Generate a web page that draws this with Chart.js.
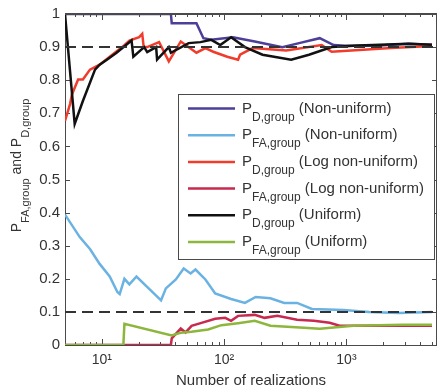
<!DOCTYPE html>
<html>
<head>
<meta charset="utf-8">
<script src="https://cdn.jsdelivr.net/npm/chart.js@4"></script>
<style>
  html, body { margin: 0; padding: 0; background: #fff; }
  #wrap { width: 444px; height: 388px; }
</style>
</head>
<body>
<div id="wrap"><canvas id="chart" width="444" height="388"></canvas></div>
<script>
// ============================================
// DATA
// ============================================
const xMin = 5;
const xMax = 5500;
const pdTarget = 0.9;
const pfaTarget = 0.1;

// P_D,group (Non-uniform)
const nonUniformPdN = [5, 36.7, 37.3, 59.4, 67.7, 78.5, 118, 178, 299, 410, 605, 785, 982, 1746, 3222, 5000];
const nonUniformPd  = [1, 1, 0.972, 0.972, 0.927, 0.922, 0.93, 0.917, 0.9, 0.912, 0.927, 0.906, 0.904, 0.904, 0.91, 0.907];

// P_FA,group (Non-uniform)
const nonUniformPfaN = [5, 6.6, 8, 9.6, 11.6, 13.4, 14, 15.3, 16.8, 19.2, 30.5, 33.4, 40.3, 46.7, 53.2, 58.3, 70.3, 84.5, 114, 148, 181, 239, 310, 395, 522, 946, 1532, 2674, 5000];
const nonUniformPfa  = [0.394, 0.326, 0.29, 0.245, 0.207, 0.16, 0.154, 0.2, 0.183, 0.207, 0.135, 0.171, 0.198, 0.231, 0.216, 0.228, 0.198, 0.156, 0.139, 0.127, 0.145, 0.141, 0.127, 0.127, 0.109, 0.106, 0.1, 0.097, 0.1];

// P_D,group (Log non-uniform)
const logPdN = [5, 5.5, 5.7, 6.4, 7.0, 8.0, 9.6, 11.6, 15.3, 16.8, 20.2, 21.4, 22.0, 23.5, 29.4, 35.3, 44.2, 59.4, 70.3, 81.5, 106, 130, 135, 171, 322, 628, 757, 1097, 2306, 5000];
const logPd  = [0.677, 0.728, 0.757, 0.802, 0.802, 0.832, 0.847, 0.871, 0.906, 0.92, 0.93, 0.94, 0.9, 0.9, 0.915, 0.857, 0.917, 0.883, 0.897, 0.886, 0.871, 0.862, 0.877, 0.897, 0.89, 0.906, 0.886, 0.89, 0.897, 0.903];

// P_FA,group (Log non-uniform)
const logPfaN = [5, 36.7, 37.3, 44.2, 48.4, 54.2, 65.3, 84.5, 102, 114, 130, 178, 214, 272, 395, 542, 729, 879, 1746, 5000];
const logPfa  = [0, 0, 0.02, 0.05, 0.038, 0.058, 0.067, 0.079, 0.082, 0.073, 0.088, 0.091, 0.082, 0.088, 0.076, 0.073, 0.067, 0.058, 0.058, 0.058];

// P_D,group (Uniform)
const uniformPdN = [5, 6, 7, 8.8, 9.6, 11, 13.2, 17.5, 18.1, 22.2, 23.5, 27.8, 28.3, 35.3, 36.7, 51.3, 64, 78.5, 93, 114, 148, 206, 353, 494, 757, 1249, 3222, 5000];
const uniformPd  = [1.0, 0.668, 0.737, 0.832, 0.847, 0.862, 0.883, 0.92, 0.871, 0.9, 0.885, 0.9, 0.862, 0.9, 0.883, 0.912, 0.915, 0.922, 0.906, 0.93, 0.9, 0.877, 0.862, 0.877, 0.9, 0.905, 0.91, 0.907];

// P_FA,group (Uniform)
const uniformPfaN = [5, 15, 15.3, 37.3, 44, 54, 74, 95, 130, 178, 239, 450, 605, 1138, 2882, 5000];
const uniformPfa  = [0, 0, 0.064, 0.029, 0.037, 0.04, 0.047, 0.06, 0.066, 0.073, 0.058, 0.052, 0.049, 0.058, 0.061, 0.061];

const yTicks = [0, 0.1, 0.2, 0.3, 0.4, 0.5, 0.6, 0.7, 0.8, 0.9, 1];
const legendSubs  = ['D,group', 'FA,group', 'D,group', 'FA,group', 'D,group', 'FA,group'];
const legendNotes = ['(Non-uniform)', '(Non-uniform)', '(Log non-uniform)', '(Log non-uniform)', '(Uniform)', '(Uniform)'];
const seriesColors = ['#4b3f98', '#6ab2e2', '#f03c2c', '#c8294f', '#111111', '#8cb63c'];

// ============================================
// STYLE
// ============================================
const FONT = '"Liberation Sans", Arial, Helvetica, sans-serif';
const AXIS_COLOR = '#4a4a4a';
const TEXT_COLOR = '#333';
const SUPERS = { '1': '\u00b9', '2': '\u00b2', '3': '\u00b3', '4': '\u2074' };

function pts(xs, ys) {
    return xs.map((x, i) => ({ x, y: ys[i] }));
}

// texto con subindices (P_{D,group})
function drawRich(ctx, x, y, parts, mainSize, subSize, subDrop) {
    parts.forEach(p => {
        ctx.font = `${p.sub ? subSize : mainSize}px ${FONT}`;
        ctx.fillText(p.text, x, p.sub ? y + subDrop : y);
        x += ctx.measureText(p.text).width;
    });
}
function richWidth(ctx, parts, mainSize, subSize) {
    let w = 0;
    parts.forEach(p => {
        ctx.font = `${p.sub ? subSize : mainSize}px ${FONT}`;
        w += ctx.measureText(p.text).width;
    });
    return w;
}

// caja + marcas hacia adentro (estilo MATLAB)
const boxPlugin = {
    id: 'boxPlugin',
    beforeDatasetsDraw(chart) {
        const { ctx, chartArea: a, scales: { x, y } } = chart;
        ctx.save();
        ctx.strokeStyle = AXIS_COLOR;
        ctx.lineWidth = 1;
        ctx.strokeRect(a.left + 0.5, a.top + 0.5, a.right - a.left - 1, a.bottom - a.top);
        ctx.beginPath();
        for (let d = 0; d <= 4; d++) {
            for (let k = 1; k <= 9; k++) {
                const v = k * Math.pow(10, d);
                if (v <= x.min || v >= x.max) continue;
                const px = Math.round(x.getPixelForValue(v)) + 0.5;
                const len = k === 1 ? 6 : 3;
                ctx.moveTo(px, a.bottom); ctx.lineTo(px, a.bottom - len);
                ctx.moveTo(px, a.top); ctx.lineTo(px, a.top + len);
            }
        }
        yTicks.forEach(v => {
            const py = Math.round(y.getPixelForValue(v)) + 0.5;
            ctx.moveTo(a.left, py); ctx.lineTo(a.left + 5, py);
            ctx.moveTo(a.right, py); ctx.lineTo(a.right - 5, py);
        });
        ctx.stroke();
        ctx.restore();
    },
    afterDatasetsDraw(chart) {
        // borde superior encima de la curva en 1
        const { ctx, chartArea: a } = chart;
        ctx.save();
        ctx.strokeStyle = AXIS_COLOR;
        ctx.lineWidth = 2;
        ctx.beginPath();
        ctx.moveTo(a.left, a.top);
        ctx.lineTo(a.right, a.top);
        ctx.stroke();
        ctx.restore();
    },
    afterDraw(chart) {
        const { ctx, chartArea: a } = chart;
        // titulo eje Y
        const parts = [
            { text: 'P' }, { text: 'FA,group', sub: true },
            { text: ' and P' }, { text: 'D,group', sub: true }
        ];
        ctx.save();
        ctx.fillStyle = TEXT_COLOR;
        ctx.textBaseline = 'alphabetic';
        ctx.textAlign = 'left';
        const w = richWidth(ctx, parts, 14, 11);
        ctx.translate(21, (a.top + a.bottom) / 2 - 14 + w / 2);
        ctx.rotate(-Math.PI / 2);
        drawRich(ctx, 0, 0, parts, 14, 11, 8);
        ctx.restore();
    }
};

// leyenda dibujada a mano por los subindices
const LEG = { x: 178, y: 94, w: 256, h: 165, firstRow: 108.5, rowStep: 26.7, lineX0: 188, lineX1: 235, textX: 242 };
const legendPlugin = {
    id: 'legendPlugin',
    afterDatasetsDraw(chart) {
        const { ctx } = chart;
        ctx.save();
        ctx.fillStyle = '#fff';
        ctx.fillRect(LEG.x, LEG.y, LEG.w, LEG.h);
        ctx.strokeStyle = AXIS_COLOR;
        ctx.lineWidth = 1;
        ctx.strokeRect(LEG.x + 0.5, LEG.y + 0.5, LEG.w, LEG.h);
        legendSubs.forEach((sub, i) => {
            const cy = LEG.firstRow + i * LEG.rowStep;
            ctx.strokeStyle = seriesColors[i];
            ctx.lineWidth = 2.5;
            ctx.beginPath();
            ctx.moveTo(LEG.lineX0, cy);
            ctx.lineTo(LEG.lineX1, cy);
            ctx.stroke();
            ctx.fillStyle = TEXT_COLOR;
            ctx.textBaseline = 'alphabetic';
            ctx.textAlign = 'left';
            drawRich(ctx, LEG.textX, cy + 4, [
                { text: 'P' }, { text: sub, sub: true }, { text: ' ' + legendNotes[i] }
            ], 15, 12, 8);
        });
        ctx.restore();
    }
};

const series = [
    [nonUniformPdN, nonUniformPd],
    [nonUniformPfaN, nonUniformPfa],
    [logPdN, logPd],
    [logPfaN, logPfa],
    [uniformPdN, uniformPd],
    [uniformPfaN, uniformPfa]
];
const datasets = series.map(([xs, ys], i) => ({
    label: 'P' + legendSubs[i] + ' ' + legendNotes[i],
    data: pts(xs, ys),
    borderColor: seriesColors[i],
    borderWidth: 2.5,
    order: 10 - i
}));
[pdTarget, pfaTarget].forEach(t => datasets.push({
    label: 'target ' + t,
    data: pts([xMin, xMax], [t, t]),
    borderColor: '#333',
    borderWidth: 2,
    borderDash: [11, 6],
    order: 1
}));

new Chart(document.getElementById('chart'), {
    type: 'line',
    data: { datasets },
    options: {
        responsive: false,
        animation: false,
        devicePixelRatio: 1,
        layout: { padding: { top: 9, right: 2, left: 0, bottom: 0 } },
        plugins: { legend: { display: false }, tooltip: { enabled: false } },
        elements: { point: { radius: 0 }, line: { tension: 0, fill: false } },
        scales: {
            x: {
                type: 'logarithmic',
                min: xMin,
                max: xMax,
                grid: { display: false, drawTicks: false },
                border: { display: false },
                afterFit: s => { s.height = 43; },
                ticks: {
                    autoSkip: false,
                    maxRotation: 0,
                    padding: 7,
                    color: TEXT_COLOR,
                    font: { family: FONT, size: 14 },
                    callback: v => {
                        const e = Math.log10(v);
                        return Math.abs(e - Math.round(e)) < 1e-9 ? '10' + SUPERS[Math.round(e)] : '';
                    }
                },
                title: {
                    display: true,
                    text: 'Number of realizations',
                    color: TEXT_COLOR,
                    font: { family: FONT, size: 15 },
                    padding: { top: 0, bottom: -2 }
                }
            },
            y: {
                min: 0,
                max: 1,
                grid: { display: false, drawTicks: false },
                border: { display: false },
                afterFit: s => { s.width = 65; },
                afterBuildTicks: s => { s.ticks = yTicks.map(v => ({ value: v })); },
                ticks: {
                    padding: 5,
                    color: TEXT_COLOR,
                    font: { family: FONT, size: 15 },
                    callback: v => (v === 0 || v === 1) ? String(v) : v.toFixed(1)
                }
            }
        }
    },
    plugins: [boxPlugin, legendPlugin]
});
</script>
</body>
</html>
